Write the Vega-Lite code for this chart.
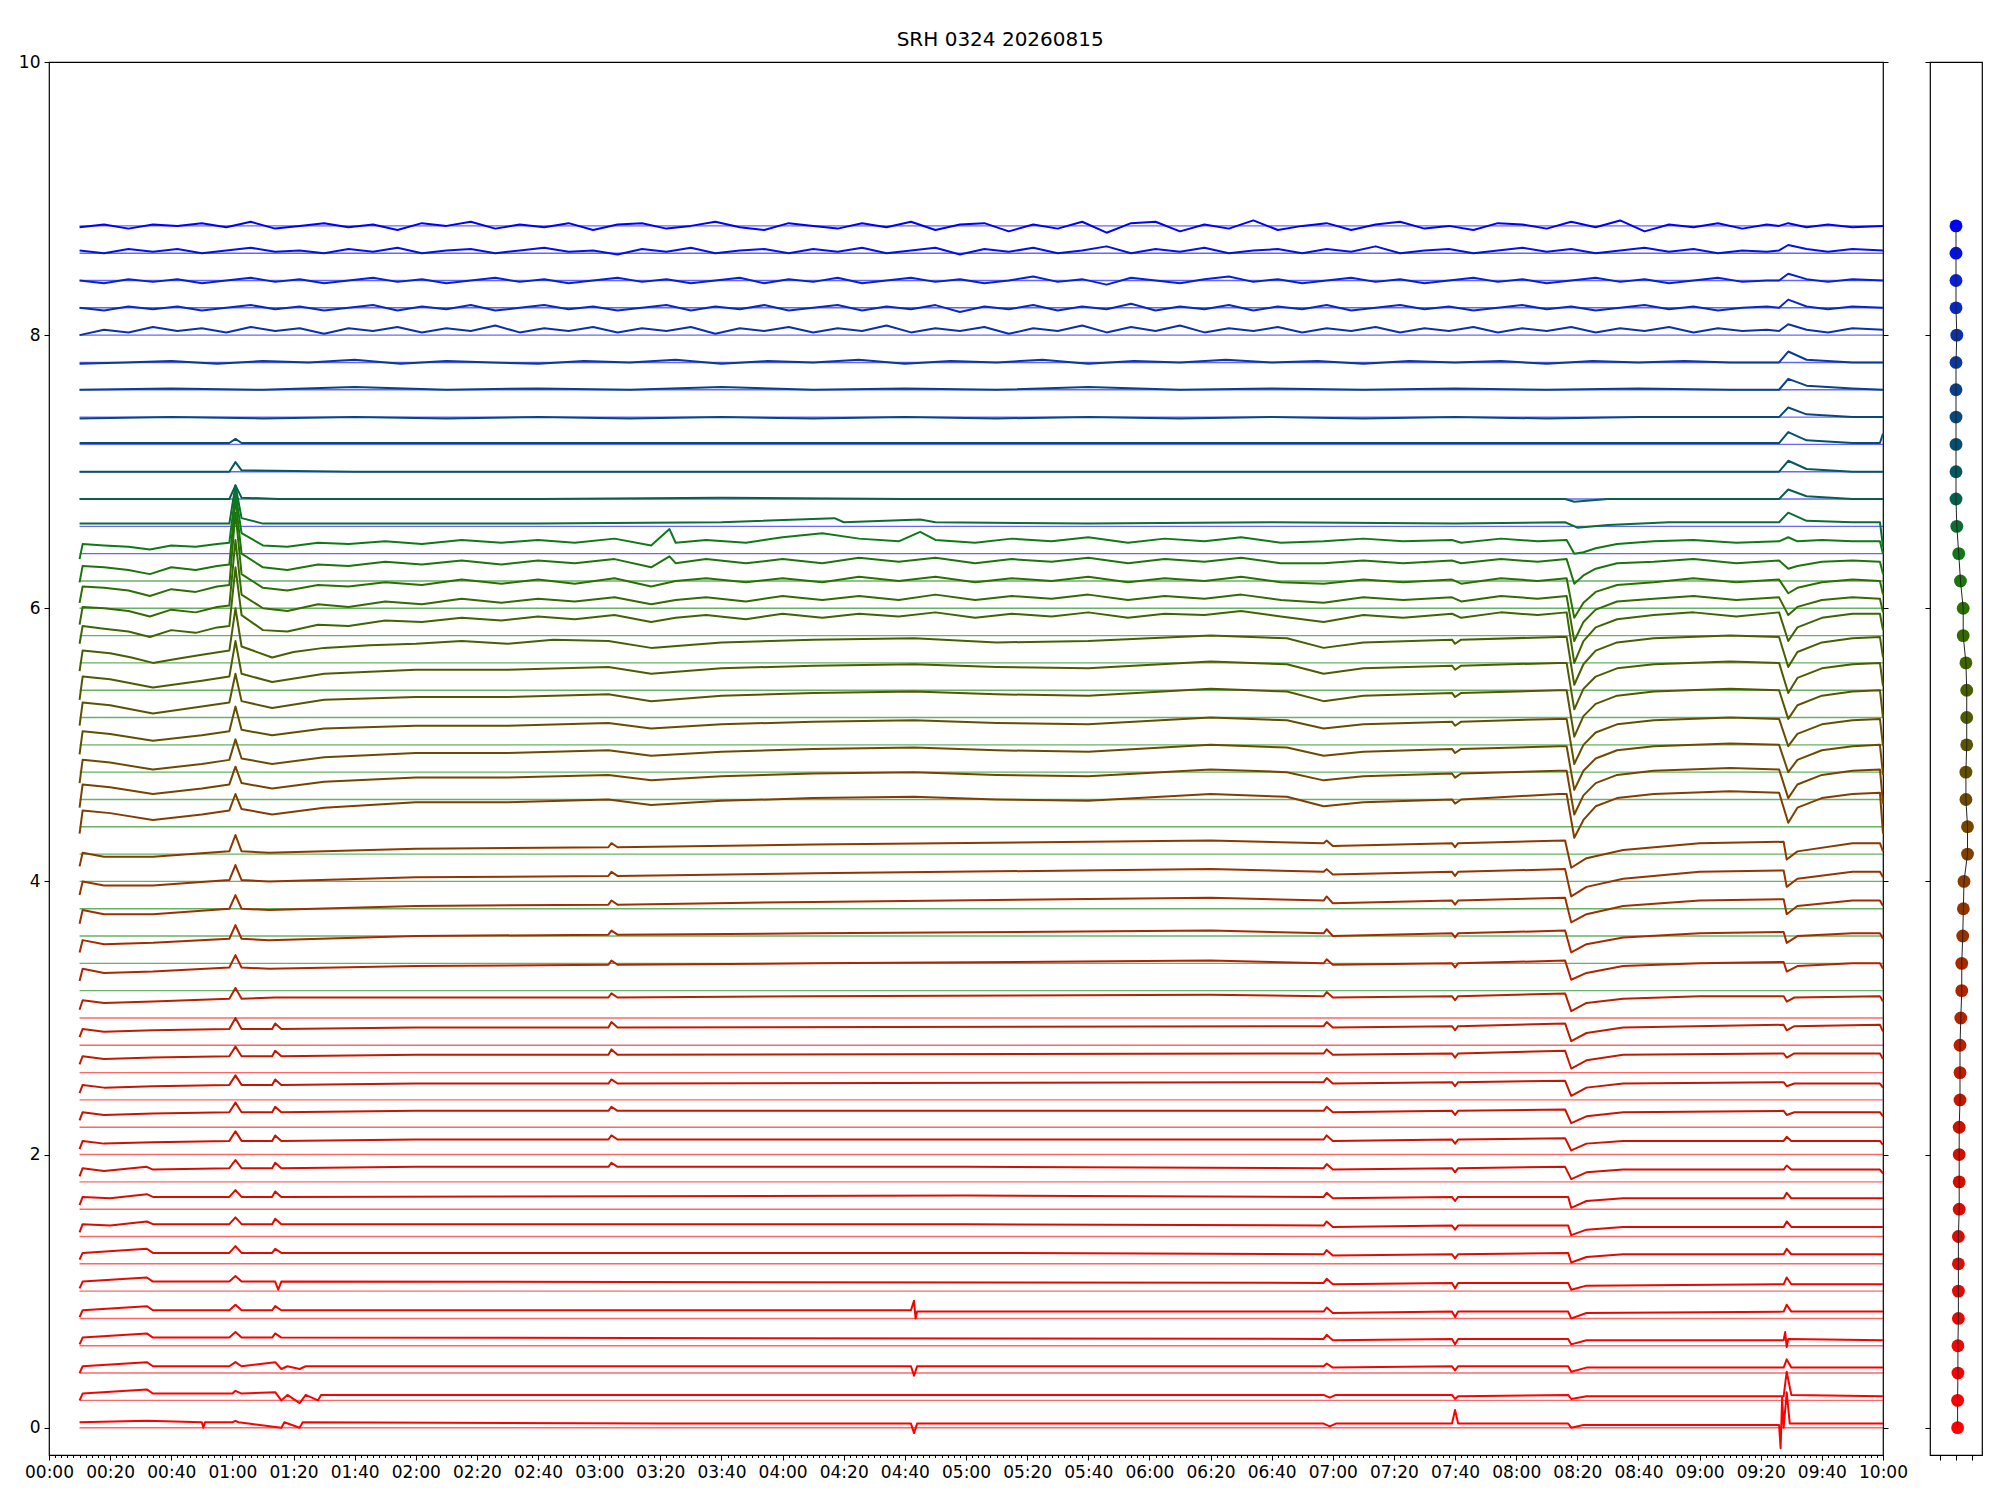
{
"$schema":"https://vega.github.io/schema/vega-lite/v6.json",
"background":"white",
"padding":{"left":17,"top":30,"right":10,"bottom":10},
"title":{"text":"SRH 0324 20260815","font":"DejaVu Sans","fontSize":20,"fontWeight":"normal","color":"#000","offset":2,"anchor":"middle"},
"spacing":14,
"datasets":{
"bl":[
{"y":0,"g":"r","t":10,"e":600},{"y":0.2,"g":"r","t":10,"e":600},{"y":0.4,"g":"r","t":10,"e":600},{"y":0.6,"g":"r","t":10,"e":600},{"y":0.8,"g":"r","t":10,"e":600},{"y":1.0,"g":"r","t":10,"e":600},{"y":1.2,"g":"r","t":10,"e":600},{"y":1.4,"g":"r","t":10,"e":600},{"y":1.6,"g":"r","t":10,"e":600},{"y":1.8,"g":"r","t":10,"e":600},{"y":2.0,"g":"r","t":10,"e":600},{"y":2.2,"g":"r","t":10,"e":600},{"y":2.4,"g":"r","t":10,"e":600},{"y":2.6,"g":"r","t":10,"e":600},{"y":2.8,"g":"r","t":10,"e":600},{"y":3.0,"g":"r","t":10,"e":600},
{"y":3.2,"g":"g","t":10,"e":600},{"y":3.4,"g":"g","t":10,"e":600},{"y":3.6,"g":"g","t":10,"e":600},{"y":3.8,"g":"g","t":10,"e":600},{"y":4.0,"g":"g","t":10,"e":600},{"y":4.2,"g":"g","t":10,"e":600},{"y":4.4,"g":"g","t":10,"e":600},{"y":4.6,"g":"g","t":10,"e":600},{"y":4.8,"g":"g","t":10,"e":600},{"y":5.0,"g":"g","t":10,"e":600},{"y":5.2,"g":"g","t":10,"e":600},{"y":5.4,"g":"g","t":10,"e":600},{"y":5.6,"g":"g","t":10,"e":600},{"y":5.8,"g":"g","t":10,"e":600},{"y":6.0,"g":"g","t":10,"e":600},{"y":6.2,"g":"g","t":10,"e":600},
{"y":6.4,"g":"b","t":10,"e":600},{"y":6.6,"g":"b","t":10,"e":600},{"y":6.8,"g":"b","t":10,"e":600},{"y":7.0,"g":"b","t":10,"e":600},{"y":7.2,"g":"b","t":10,"e":600},{"y":7.4,"g":"b","t":10,"e":600},{"y":7.6,"g":"b","t":10,"e":600},{"y":7.8,"g":"b","t":10,"e":600},{"y":8.0,"g":"b","t":10,"e":600},{"y":8.2,"g":"b","t":10,"e":600},{"y":8.4,"g":"b","t":10,"e":600},{"y":8.6,"g":"b","t":10,"e":600},{"y":8.8,"g":"b","t":10,"e":600}
],
"dots":[
{"s":0,"x":0.1,"y":0},{"s":1,"x":0.1,"y":0.2},{"s":2,"x":0.12,"y":0.4},{"s":3,"x":0.12,"y":0.6},{"s":4,"x":0.15,"y":0.8},{"s":5,"x":0.15,"y":1.0},{"s":6,"x":0.15,"y":1.2},{"s":7,"x":0.15,"y":1.4},{"s":8,"x":0.2,"y":1.6},{"s":9,"x":0.2,"y":1.8},{"s":10,"x":0.2,"y":2.0},{"s":11,"x":0.2,"y":2.2},{"s":12,"x":0.25,"y":2.4},{"s":13,"x":0.25,"y":2.6},{"s":14,"x":0.25,"y":2.8},{"s":15,"x":0.3,"y":3.0},{"s":16,"x":0.36,"y":3.2},{"s":17,"x":0.36,"y":3.4},{"s":18,"x":0.42,"y":3.6},{"s":19,"x":0.46,"y":3.8},{"s":20,"x":0.5,"y":4.0},{"s":21,"x":0.72,"y":4.2},{"s":22,"x":0.72,"y":4.4},{"s":23,"x":0.62,"y":4.6},{"s":24,"x":0.62,"y":4.8},{"s":25,"x":0.67,"y":5.0},{"s":26,"x":0.67,"y":5.2},{"s":27,"x":0.67,"y":5.4},{"s":28,"x":0.62,"y":5.6},{"s":29,"x":0.45,"y":5.8},{"s":30,"x":0.45,"y":6.0},{"s":31,"x":0.28,"y":6.2},{"s":32,"x":0.17,"y":6.4},{"s":33,"x":0.05,"y":6.6},{"s":34,"x":0,"y":6.8},{"s":35,"x":0,"y":7.0},{"s":36,"x":0,"y":7.2},{"s":37,"x":0,"y":7.4},{"s":38,"x":0,"y":7.6},{"s":39,"x":0,"y":7.8},{"s":40,"x":0.05,"y":8.0},{"s":41,"x":0,"y":8.2},{"s":42,"x":0,"y":8.4},{"s":43,"x":0,"y":8.6},{"s":44,"x":0,"y":8.8}
],
"tr":[
{"s":0,"t":10,"y":0.04},{"s":0,"t":32,"y":0.05},{"s":0,"t":50,"y":0.04},{"s":0,"t":50.5,"y":0.0},{"s":0,"t":51,"y":0.04},{"s":0,"t":60,"y":0.04},{"s":0,"t":61,"y":0.05},{"s":0,"t":62,"y":0.04},{"s":0,"t":76,"y":0.0},{"s":0,"t":77,"y":0.04},{"s":0,"t":82,"y":0.0},{"s":0,"t":83,"y":0.04},{"s":0,"t":200,"y":0.03},{"s":0,"t":282,"y":0.03},{"s":0,"t":283,"y":-0.04},{"s":0,"t":284,"y":0.03},{"s":0,"t":417,"y":0.03},{"s":0,"t":419,"y":0.01},{"s":0,"t":421,"y":0.03},{"s":0,"t":459,"y":0.03},{"s":0,"t":460,"y":0.13},{"s":0,"t":461,"y":0.03},{"s":0,"t":497,"y":0.03},{"s":0,"t":498,"y":0.0},{"s":0,"t":502,"y":0.02},{"s":0,"t":566,"y":0.02},{"s":0,"t":566.5,"y":-0.15},{"s":0,"t":567,"y":0.22},{"s":0,"t":567.5,"y":0.0},{"s":0,"t":568.5,"y":0.26},{"s":0,"t":569.5,"y":0.03},{"s":0,"t":600,"y":0.03},
{"s":1,"t":10,"y":0.2},{"s":1,"t":11,"y":0.25},{"s":1,"t":32,"y":0.28},{"s":1,"t":34,"y":0.25},{"s":1,"t":60,"y":0.25},{"s":1,"t":61,"y":0.27},{"s":1,"t":63,"y":0.25},{"s":1,"t":74,"y":0.26},{"s":1,"t":76,"y":0.2},{"s":1,"t":78,"y":0.24},{"s":1,"t":82,"y":0.18},{"s":1,"t":84,"y":0.24},{"s":1,"t":88,"y":0.2},{"s":1,"t":89,"y":0.24},{"s":1,"t":240,"y":0.24},{"s":1,"t":417,"y":0.24},{"s":1,"t":419,"y":0.22},{"s":1,"t":421,"y":0.24},{"s":1,"t":459,"y":0.24},{"s":1,"t":460,"y":0.21},{"s":1,"t":461,"y":0.23},{"s":1,"t":497,"y":0.24},{"s":1,"t":498,"y":0.21},{"s":1,"t":503,"y":0.23},{"s":1,"t":567.5,"y":0.23},{"s":1,"t":568.5,"y":0.41},{"s":1,"t":570,"y":0.24},{"s":1,"t":600,"y":0.23},
{"s":2,"t":10,"y":0.4},{"s":2,"t":11,"y":0.45},{"s":2,"t":32,"y":0.48},{"s":2,"t":34,"y":0.45},{"s":2,"t":59,"y":0.45},{"s":2,"t":61,"y":0.48},{"s":2,"t":63,"y":0.45},{"s":2,"t":74,"y":0.48},{"s":2,"t":76,"y":0.43},{"s":2,"t":78,"y":0.45},{"s":2,"t":82,"y":0.43},{"s":2,"t":84,"y":0.45},{"s":2,"t":282,"y":0.45},{"s":2,"t":283,"y":0.38},{"s":2,"t":284,"y":0.45},{"s":2,"t":417,"y":0.45},{"s":2,"t":418,"y":0.47},{"s":2,"t":420,"y":0.44},{"s":2,"t":459,"y":0.45},{"s":2,"t":460,"y":0.42},{"s":2,"t":461,"y":0.45},{"s":2,"t":497,"y":0.45},{"s":2,"t":498,"y":0.41},{"s":2,"t":503,"y":0.44},{"s":2,"t":567.5,"y":0.44},{"s":2,"t":568.5,"y":0.5},{"s":2,"t":570,"y":0.44},{"s":2,"t":600,"y":0.44},
{"s":3,"t":10,"y":0.61},{"s":3,"t":11,"y":0.66},{"s":3,"t":32,"y":0.69},{"s":3,"t":34,"y":0.66},{"s":3,"t":59,"y":0.66},{"s":3,"t":61,"y":0.7},{"s":3,"t":63,"y":0.66},{"s":3,"t":73,"y":0.66},{"s":3,"t":74,"y":0.69},{"s":3,"t":76,"y":0.66},{"s":3,"t":417,"y":0.65},{"s":3,"t":418,"y":0.68},{"s":3,"t":420,"y":0.64},{"s":3,"t":459,"y":0.65},{"s":3,"t":460,"y":0.61},{"s":3,"t":461,"y":0.65},{"s":3,"t":497,"y":0.65},{"s":3,"t":498,"y":0.61},{"s":3,"t":503,"y":0.64},{"s":3,"t":567.5,"y":0.64},{"s":3,"t":568,"y":0.7},{"s":3,"t":568.5,"y":0.59},{"s":3,"t":569,"y":0.65},{"s":3,"t":600,"y":0.64},
{"s":4,"t":10,"y":0.81},{"s":4,"t":11,"y":0.86},{"s":4,"t":32,"y":0.89},{"s":4,"t":34,"y":0.86},{"s":4,"t":59,"y":0.86},{"s":4,"t":61,"y":0.9},{"s":4,"t":63,"y":0.86},{"s":4,"t":73,"y":0.86},{"s":4,"t":74,"y":0.89},{"s":4,"t":76,"y":0.86},{"s":4,"t":282,"y":0.86},{"s":4,"t":283,"y":0.93},{"s":4,"t":283.5,"y":0.8},{"s":4,"t":284,"y":0.85},{"s":4,"t":417,"y":0.85},{"s":4,"t":418,"y":0.88},{"s":4,"t":420,"y":0.84},{"s":4,"t":459,"y":0.85},{"s":4,"t":460,"y":0.81},{"s":4,"t":461,"y":0.85},{"s":4,"t":497,"y":0.85},{"s":4,"t":498,"y":0.8},{"s":4,"t":503,"y":0.84},{"s":4,"t":567.5,"y":0.85},{"s":4,"t":568.5,"y":0.9},{"s":4,"t":570,"y":0.85},{"s":4,"t":600,"y":0.85},
{"s":5,"t":10,"y":1.02},{"s":5,"t":11,"y":1.07},{"s":5,"t":32,"y":1.1},{"s":5,"t":34,"y":1.07},{"s":5,"t":59,"y":1.07},{"s":5,"t":61,"y":1.11},{"s":5,"t":63,"y":1.07},{"s":5,"t":74,"y":1.07},{"s":5,"t":75,"y":1.01},{"s":5,"t":76,"y":1.07},{"s":5,"t":417,"y":1.06},{"s":5,"t":418,"y":1.09},{"s":5,"t":420,"y":1.05},{"s":5,"t":459,"y":1.06},{"s":5,"t":460,"y":1.02},{"s":5,"t":461,"y":1.06},{"s":5,"t":497,"y":1.06},{"s":5,"t":498,"y":1.01},{"s":5,"t":503,"y":1.04},{"s":5,"t":567.5,"y":1.05},{"s":5,"t":568.5,"y":1.1},{"s":5,"t":570,"y":1.05},{"s":5,"t":600,"y":1.05},
{"s":6,"t":10,"y":1.23},{"s":6,"t":11,"y":1.28},{"s":6,"t":32,"y":1.31},{"s":6,"t":34,"y":1.28},{"s":6,"t":59,"y":1.28},{"s":6,"t":61,"y":1.33},{"s":6,"t":63,"y":1.28},{"s":6,"t":73,"y":1.28},{"s":6,"t":74,"y":1.31},{"s":6,"t":76,"y":1.28},{"s":6,"t":300,"y":1.28},{"s":6,"t":417,"y":1.27},{"s":6,"t":418,"y":1.3},{"s":6,"t":420,"y":1.26},{"s":6,"t":459,"y":1.27},{"s":6,"t":460,"y":1.24},{"s":6,"t":461,"y":1.27},{"s":6,"t":497,"y":1.28},{"s":6,"t":498,"y":1.21},{"s":6,"t":503,"y":1.25},{"s":6,"t":515,"y":1.27},{"s":6,"t":567.5,"y":1.27},{"s":6,"t":568.5,"y":1.31},{"s":6,"t":570,"y":1.27},{"s":6,"t":600,"y":1.27},
{"s":7,"t":10,"y":1.43},{"s":7,"t":11,"y":1.49},{"s":7,"t":20,"y":1.48},{"s":7,"t":32,"y":1.51},{"s":7,"t":34,"y":1.49},{"s":7,"t":59,"y":1.49},{"s":7,"t":61,"y":1.54},{"s":7,"t":63,"y":1.49},{"s":7,"t":73,"y":1.49},{"s":7,"t":74,"y":1.53},{"s":7,"t":76,"y":1.49},{"s":7,"t":300,"y":1.49},{"s":7,"t":417,"y":1.48},{"s":7,"t":418,"y":1.51},{"s":7,"t":420,"y":1.47},{"s":7,"t":459,"y":1.48},{"s":7,"t":460,"y":1.45},{"s":7,"t":461,"y":1.48},{"s":7,"t":497,"y":1.48},{"s":7,"t":498,"y":1.41},{"s":7,"t":503,"y":1.45},{"s":7,"t":515,"y":1.47},{"s":7,"t":567.5,"y":1.47},{"s":7,"t":568.5,"y":1.51},{"s":7,"t":570,"y":1.47},{"s":7,"t":600,"y":1.47},
{"s":8,"t":10,"y":1.63},{"s":8,"t":11,"y":1.69},{"s":8,"t":20,"y":1.68},{"s":8,"t":32,"y":1.71},{"s":8,"t":34,"y":1.69},{"s":8,"t":59,"y":1.69},{"s":8,"t":61,"y":1.74},{"s":8,"t":63,"y":1.69},{"s":8,"t":73,"y":1.69},{"s":8,"t":74,"y":1.73},{"s":8,"t":76,"y":1.69},{"s":8,"t":300,"y":1.7},{"s":8,"t":417,"y":1.69},{"s":8,"t":418,"y":1.72},{"s":8,"t":420,"y":1.68},{"s":8,"t":459,"y":1.69},{"s":8,"t":460,"y":1.66},{"s":8,"t":461,"y":1.69},{"s":8,"t":497,"y":1.69},{"s":8,"t":498,"y":1.61},{"s":8,"t":503,"y":1.66},{"s":8,"t":515,"y":1.68},{"s":8,"t":567.5,"y":1.68},{"s":8,"t":568.5,"y":1.72},{"s":8,"t":570,"y":1.68},{"s":8,"t":600,"y":1.68},
{"s":9,"t":10,"y":1.84},{"s":9,"t":11,"y":1.9},{"s":9,"t":18,"y":1.88},{"s":9,"t":32,"y":1.91},{"s":9,"t":34,"y":1.89},{"s":9,"t":59,"y":1.9},{"s":9,"t":61,"y":1.96},{"s":9,"t":63,"y":1.9},{"s":9,"t":73,"y":1.9},{"s":9,"t":74,"y":1.94},{"s":9,"t":76,"y":1.9},{"s":9,"t":120,"y":1.91},{"s":9,"t":183,"y":1.91},{"s":9,"t":184,"y":1.94},{"s":9,"t":186,"y":1.91},{"s":9,"t":300,"y":1.91},{"s":9,"t":417,"y":1.9},{"s":9,"t":418,"y":1.93},{"s":9,"t":420,"y":1.89},{"s":9,"t":459,"y":1.9},{"s":9,"t":460,"y":1.87},{"s":9,"t":461,"y":1.9},{"s":9,"t":496,"y":1.91},{"s":9,"t":498,"y":1.82},{"s":9,"t":503,"y":1.87},{"s":9,"t":515,"y":1.89},{"s":9,"t":567.5,"y":1.89},{"s":9,"t":568.5,"y":1.92},{"s":9,"t":570,"y":1.89},{"s":9,"t":599,"y":1.89},{"s":9,"t":600,"y":1.86},
{"s":10,"t":10,"y":2.04},{"s":10,"t":11,"y":2.1},{"s":10,"t":18,"y":2.08},{"s":10,"t":34,"y":2.09},{"s":10,"t":59,"y":2.1},{"s":10,"t":61,"y":2.17},{"s":10,"t":63,"y":2.1},{"s":10,"t":73,"y":2.1},{"s":10,"t":74,"y":2.14},{"s":10,"t":76,"y":2.1},{"s":10,"t":120,"y":2.11},{"s":10,"t":183,"y":2.11},{"s":10,"t":184,"y":2.14},{"s":10,"t":186,"y":2.11},{"s":10,"t":417,"y":2.11},{"s":10,"t":418,"y":2.14},{"s":10,"t":420,"y":2.1},{"s":10,"t":459,"y":2.11},{"s":10,"t":460,"y":2.08},{"s":10,"t":461,"y":2.11},{"s":10,"t":496,"y":2.12},{"s":10,"t":498,"y":2.03},{"s":10,"t":503,"y":2.08},{"s":10,"t":515,"y":2.1},{"s":10,"t":567.5,"y":2.1},{"s":10,"t":568.5,"y":2.13},{"s":10,"t":570,"y":2.1},{"s":10,"t":599,"y":2.1},{"s":10,"t":600,"y":2.07},
{"s":11,"t":10,"y":2.25},{"s":11,"t":11,"y":2.31},{"s":11,"t":18,"y":2.29},{"s":11,"t":34,"y":2.3},{"s":11,"t":59,"y":2.31},{"s":11,"t":61,"y":2.38},{"s":11,"t":63,"y":2.31},{"s":11,"t":73,"y":2.31},{"s":11,"t":74,"y":2.35},{"s":11,"t":76,"y":2.31},{"s":11,"t":120,"y":2.32},{"s":11,"t":183,"y":2.32},{"s":11,"t":184,"y":2.35},{"s":11,"t":186,"y":2.32},{"s":11,"t":417,"y":2.32},{"s":11,"t":418,"y":2.35},{"s":11,"t":420,"y":2.31},{"s":11,"t":459,"y":2.32},{"s":11,"t":460,"y":2.29},{"s":11,"t":461,"y":2.32},{"s":11,"t":496,"y":2.33},{"s":11,"t":498,"y":2.23},{"s":11,"t":503,"y":2.28},{"s":11,"t":515,"y":2.31},{"s":11,"t":567.5,"y":2.32},{"s":11,"t":568.5,"y":2.29},{"s":11,"t":571,"y":2.31},{"s":11,"t":599,"y":2.31},{"s":11,"t":600,"y":2.28},
{"s":12,"t":10,"y":2.45},{"s":12,"t":11,"y":2.51},{"s":12,"t":18,"y":2.49},{"s":12,"t":34,"y":2.5},{"s":12,"t":59,"y":2.51},{"s":12,"t":61,"y":2.58},{"s":12,"t":63,"y":2.51},{"s":12,"t":73,"y":2.51},{"s":12,"t":74,"y":2.55},{"s":12,"t":76,"y":2.51},{"s":12,"t":120,"y":2.52},{"s":12,"t":183,"y":2.52},{"s":12,"t":184,"y":2.55},{"s":12,"t":186,"y":2.52},{"s":12,"t":417,"y":2.53},{"s":12,"t":418,"y":2.56},{"s":12,"t":420,"y":2.52},{"s":12,"t":459,"y":2.53},{"s":12,"t":460,"y":2.5},{"s":12,"t":461,"y":2.53},{"s":12,"t":496,"y":2.54},{"s":12,"t":498,"y":2.43},{"s":12,"t":503,"y":2.49},{"s":12,"t":515,"y":2.52},{"s":12,"t":567.5,"y":2.53},{"s":12,"t":568.5,"y":2.5},{"s":12,"t":571,"y":2.52},{"s":12,"t":599,"y":2.52},{"s":12,"t":600,"y":2.49},
{"s":13,"t":10,"y":2.66},{"s":13,"t":11,"y":2.72},{"s":13,"t":18,"y":2.7},{"s":13,"t":34,"y":2.71},{"s":13,"t":59,"y":2.72},{"s":13,"t":61,"y":2.79},{"s":13,"t":63,"y":2.72},{"s":13,"t":73,"y":2.72},{"s":13,"t":74,"y":2.76},{"s":13,"t":76,"y":2.72},{"s":13,"t":120,"y":2.73},{"s":13,"t":183,"y":2.73},{"s":13,"t":184,"y":2.77},{"s":13,"t":186,"y":2.73},{"s":13,"t":417,"y":2.74},{"s":13,"t":418,"y":2.77},{"s":13,"t":420,"y":2.73},{"s":13,"t":459,"y":2.74},{"s":13,"t":460,"y":2.71},{"s":13,"t":461,"y":2.74},{"s":13,"t":496,"y":2.76},{"s":13,"t":498,"y":2.63},{"s":13,"t":503,"y":2.69},{"s":13,"t":515,"y":2.73},{"s":13,"t":567.5,"y":2.74},{"s":13,"t":568.5,"y":2.71},{"s":13,"t":571,"y":2.74},{"s":13,"t":599,"y":2.74},{"s":13,"t":600,"y":2.7},
{"s":14,"t":10,"y":2.86},{"s":14,"t":11,"y":2.92},{"s":14,"t":18,"y":2.9},{"s":14,"t":34,"y":2.91},{"s":14,"t":59,"y":2.92},{"s":14,"t":61,"y":3.0},{"s":14,"t":63,"y":2.92},{"s":14,"t":73,"y":2.92},{"s":14,"t":74,"y":2.96},{"s":14,"t":76,"y":2.92},{"s":14,"t":120,"y":2.93},{"s":14,"t":183,"y":2.93},{"s":14,"t":184,"y":2.97},{"s":14,"t":186,"y":2.93},{"s":14,"t":417,"y":2.94},{"s":14,"t":418,"y":2.97},{"s":14,"t":420,"y":2.93},{"s":14,"t":459,"y":2.94},{"s":14,"t":460,"y":2.91},{"s":14,"t":461,"y":2.94},{"s":14,"t":496,"y":2.96},{"s":14,"t":498,"y":2.83},{"s":14,"t":503,"y":2.89},{"s":14,"t":515,"y":2.93},{"s":14,"t":567.5,"y":2.95},{"s":14,"t":568.5,"y":2.91},{"s":14,"t":571,"y":2.94},{"s":14,"t":599,"y":2.95},{"s":14,"t":600,"y":2.9},
{"s":15,"t":10,"y":3.06},{"s":15,"t":11,"y":3.13},{"s":15,"t":18,"y":3.11},{"s":15,"t":34,"y":3.12},{"s":15,"t":59,"y":3.14},{"s":15,"t":61,"y":3.22},{"s":15,"t":63,"y":3.14},{"s":15,"t":74,"y":3.15},{"s":15,"t":120,"y":3.15},{"s":15,"t":183,"y":3.15},{"s":15,"t":184,"y":3.18},{"s":15,"t":186,"y":3.15},{"s":15,"t":250,"y":3.16},{"s":15,"t":380,"y":3.17},{"s":15,"t":417,"y":3.16},{"s":15,"t":418,"y":3.19},{"s":15,"t":420,"y":3.15},{"s":15,"t":459,"y":3.16},{"s":15,"t":460,"y":3.13},{"s":15,"t":461,"y":3.16},{"s":15,"t":496,"y":3.18},{"s":15,"t":498,"y":3.05},{"s":15,"t":503,"y":3.11},{"s":15,"t":515,"y":3.14},{"s":15,"t":540,"y":3.16},{"s":15,"t":567.5,"y":3.16},{"s":15,"t":568.5,"y":3.12},{"s":15,"t":571,"y":3.15},{"s":15,"t":599,"y":3.16},{"s":15,"t":600,"y":3.12},
{"s":16,"t":10,"y":3.27},{"s":16,"t":11,"y":3.36},{"s":16,"t":18,"y":3.33},{"s":16,"t":34,"y":3.34},{"s":16,"t":59,"y":3.37},{"s":16,"t":61,"y":3.46},{"s":16,"t":63,"y":3.37},{"s":16,"t":72,"y":3.36},{"s":16,"t":120,"y":3.38},{"s":16,"t":183,"y":3.39},{"s":16,"t":184,"y":3.42},{"s":16,"t":186,"y":3.39},{"s":16,"t":250,"y":3.4},{"s":16,"t":380,"y":3.42},{"s":16,"t":417,"y":3.4},{"s":16,"t":418,"y":3.43},{"s":16,"t":420,"y":3.39},{"s":16,"t":459,"y":3.4},{"s":16,"t":460,"y":3.37},{"s":16,"t":461,"y":3.4},{"s":16,"t":496,"y":3.42},{"s":16,"t":498,"y":3.28},{"s":16,"t":503,"y":3.33},{"s":16,"t":515,"y":3.38},{"s":16,"t":540,"y":3.4},{"s":16,"t":567.5,"y":3.41},{"s":16,"t":568.5,"y":3.34},{"s":16,"t":572,"y":3.38},{"s":16,"t":590,"y":3.4},{"s":16,"t":599,"y":3.4},{"s":16,"t":600,"y":3.36},
{"s":17,"t":10,"y":3.48},{"s":17,"t":11,"y":3.57},{"s":17,"t":18,"y":3.54},{"s":17,"t":34,"y":3.55},{"s":17,"t":59,"y":3.58},{"s":17,"t":61,"y":3.68},{"s":17,"t":63,"y":3.58},{"s":17,"t":72,"y":3.57},{"s":17,"t":120,"y":3.6},{"s":17,"t":183,"y":3.61},{"s":17,"t":184,"y":3.64},{"s":17,"t":186,"y":3.61},{"s":17,"t":250,"y":3.62},{"s":17,"t":380,"y":3.64},{"s":17,"t":417,"y":3.62},{"s":17,"t":418,"y":3.65},{"s":17,"t":420,"y":3.6},{"s":17,"t":459,"y":3.62},{"s":17,"t":460,"y":3.59},{"s":17,"t":461,"y":3.62},{"s":17,"t":496,"y":3.64},{"s":17,"t":498,"y":3.48},{"s":17,"t":503,"y":3.54},{"s":17,"t":515,"y":3.59},{"s":17,"t":540,"y":3.62},{"s":17,"t":567.5,"y":3.63},{"s":17,"t":568.5,"y":3.55},{"s":17,"t":572,"y":3.6},{"s":17,"t":590,"y":3.62},{"s":17,"t":599,"y":3.62},{"s":17,"t":600,"y":3.58},
{"s":18,"t":10,"y":3.69},{"s":18,"t":11,"y":3.79},{"s":18,"t":18,"y":3.76},{"s":18,"t":34,"y":3.76},{"s":18,"t":59,"y":3.8},{"s":18,"t":61,"y":3.9},{"s":18,"t":63,"y":3.8},{"s":18,"t":72,"y":3.79},{"s":18,"t":120,"y":3.82},{"s":18,"t":183,"y":3.83},{"s":18,"t":184,"y":3.86},{"s":18,"t":186,"y":3.83},{"s":18,"t":250,"y":3.85},{"s":18,"t":380,"y":3.88},{"s":18,"t":417,"y":3.86},{"s":18,"t":418,"y":3.89},{"s":18,"t":420,"y":3.84},{"s":18,"t":459,"y":3.86},{"s":18,"t":460,"y":3.83},{"s":18,"t":461,"y":3.86},{"s":18,"t":496,"y":3.88},{"s":18,"t":498,"y":3.7},{"s":18,"t":503,"y":3.76},{"s":18,"t":515,"y":3.82},{"s":18,"t":540,"y":3.86},{"s":18,"t":567.5,"y":3.87},{"s":18,"t":568.5,"y":3.76},{"s":18,"t":572,"y":3.82},{"s":18,"t":590,"y":3.86},{"s":18,"t":599,"y":3.86},{"s":18,"t":600,"y":3.82},
{"s":19,"t":10,"y":3.9},{"s":19,"t":11,"y":4.0},{"s":19,"t":18,"y":3.97},{"s":19,"t":34,"y":3.97},{"s":19,"t":59,"y":4.01},{"s":19,"t":61,"y":4.12},{"s":19,"t":63,"y":4.01},{"s":19,"t":72,"y":4.0},{"s":19,"t":120,"y":4.03},{"s":19,"t":183,"y":4.04},{"s":19,"t":184,"y":4.07},{"s":19,"t":186,"y":4.04},{"s":19,"t":250,"y":4.06},{"s":19,"t":380,"y":4.09},{"s":19,"t":417,"y":4.07},{"s":19,"t":418,"y":4.09},{"s":19,"t":420,"y":4.05},{"s":19,"t":459,"y":4.07},{"s":19,"t":460,"y":4.04},{"s":19,"t":461,"y":4.07},{"s":19,"t":496,"y":4.09},{"s":19,"t":498,"y":3.89},{"s":19,"t":503,"y":3.96},{"s":19,"t":515,"y":4.02},{"s":19,"t":540,"y":4.07},{"s":19,"t":567.5,"y":4.08},{"s":19,"t":568.5,"y":3.96},{"s":19,"t":572,"y":4.02},{"s":19,"t":590,"y":4.07},{"s":19,"t":599,"y":4.07},{"s":19,"t":600,"y":4.03},
{"s":20,"t":10,"y":4.11},{"s":20,"t":11,"y":4.21},{"s":20,"t":18,"y":4.18},{"s":20,"t":34,"y":4.18},{"s":20,"t":59,"y":4.22},{"s":20,"t":61,"y":4.34},{"s":20,"t":63,"y":4.22},{"s":20,"t":72,"y":4.21},{"s":20,"t":120,"y":4.24},{"s":20,"t":183,"y":4.25},{"s":20,"t":184,"y":4.28},{"s":20,"t":186,"y":4.25},{"s":20,"t":250,"y":4.27},{"s":20,"t":380,"y":4.3},{"s":20,"t":417,"y":4.28},{"s":20,"t":418,"y":4.3},{"s":20,"t":420,"y":4.26},{"s":20,"t":459,"y":4.28},{"s":20,"t":460,"y":4.25},{"s":20,"t":461,"y":4.28},{"s":20,"t":496,"y":4.3},{"s":20,"t":498,"y":4.1},{"s":20,"t":503,"y":4.17},{"s":20,"t":515,"y":4.23},{"s":20,"t":540,"y":4.28},{"s":20,"t":567.5,"y":4.29},{"s":20,"t":568.5,"y":4.16},{"s":20,"t":572,"y":4.22},{"s":20,"t":590,"y":4.28},{"s":20,"t":599,"y":4.28},{"s":20,"t":600,"y":4.22},
{"s":21,"t":10,"y":4.35},{"s":21,"t":11,"y":4.52},{"s":21,"t":20,"y":4.5},{"s":21,"t":34,"y":4.45},{"s":21,"t":50,"y":4.49},{"s":21,"t":59,"y":4.52},{"s":21,"t":61,"y":4.64},{"s":21,"t":63,"y":4.53},{"s":21,"t":73,"y":4.49},{"s":21,"t":90,"y":4.54},{"s":21,"t":120,"y":4.58},{"s":21,"t":150,"y":4.58},{"s":21,"t":183,"y":4.6},{"s":21,"t":197,"y":4.56},{"s":21,"t":220,"y":4.59},{"s":21,"t":250,"y":4.61},{"s":21,"t":283,"y":4.62},{"s":21,"t":310,"y":4.6},{"s":21,"t":340,"y":4.59},{"s":21,"t":380,"y":4.64},{"s":21,"t":405,"y":4.62},{"s":21,"t":417,"y":4.55},{"s":21,"t":430,"y":4.58},{"s":21,"t":459,"y":4.6},{"s":21,"t":460,"y":4.57},{"s":21,"t":462,"y":4.6},{"s":21,"t":494,"y":4.64},{"s":21,"t":496.5,"y":4.64},{"s":21,"t":499,"y":4.32},{"s":21,"t":502,"y":4.45},{"s":21,"t":506,"y":4.55},{"s":21,"t":513,"y":4.61},{"s":21,"t":525,"y":4.64},{"s":21,"t":550,"y":4.66},{"s":21,"t":566,"y":4.65},{"s":21,"t":569,"y":4.43},{"s":21,"t":572,"y":4.54},{"s":21,"t":580,"y":4.61},{"s":21,"t":590,"y":4.64},{"s":21,"t":599,"y":4.65},{"s":21,"t":600,"y":4.35},
{"s":22,"t":10,"y":4.54},{"s":22,"t":11,"y":4.71},{"s":22,"t":20,"y":4.69},{"s":22,"t":34,"y":4.64},{"s":22,"t":50,"y":4.68},{"s":22,"t":59,"y":4.71},{"s":22,"t":61,"y":4.84},{"s":22,"t":63,"y":4.72},{"s":22,"t":73,"y":4.68},{"s":22,"t":90,"y":4.73},{"s":22,"t":120,"y":4.76},{"s":22,"t":150,"y":4.76},{"s":22,"t":183,"y":4.78},{"s":22,"t":197,"y":4.74},{"s":22,"t":220,"y":4.77},{"s":22,"t":250,"y":4.79},{"s":22,"t":283,"y":4.8},{"s":22,"t":310,"y":4.78},{"s":22,"t":340,"y":4.77},{"s":22,"t":380,"y":4.82},{"s":22,"t":405,"y":4.8},{"s":22,"t":417,"y":4.74},{"s":22,"t":430,"y":4.77},{"s":22,"t":459,"y":4.79},{"s":22,"t":460,"y":4.76},{"s":22,"t":462,"y":4.79},{"s":22,"t":494,"y":4.81},{"s":22,"t":496.5,"y":4.81},{"s":22,"t":499,"y":4.49},{"s":22,"t":502,"y":4.63},{"s":22,"t":506,"y":4.72},{"s":22,"t":513,"y":4.78},{"s":22,"t":525,"y":4.81},{"s":22,"t":550,"y":4.83},{"s":22,"t":566,"y":4.82},{"s":22,"t":569,"y":4.61},{"s":22,"t":572,"y":4.71},{"s":22,"t":580,"y":4.78},{"s":22,"t":590,"y":4.81},{"s":22,"t":599,"y":4.82},{"s":22,"t":600,"y":4.57},
{"s":23,"t":10,"y":4.72},{"s":23,"t":11,"y":4.89},{"s":23,"t":20,"y":4.87},{"s":23,"t":34,"y":4.82},{"s":23,"t":50,"y":4.86},{"s":23,"t":59,"y":4.89},{"s":23,"t":61,"y":5.04},{"s":23,"t":63,"y":4.9},{"s":23,"t":73,"y":4.86},{"s":23,"t":90,"y":4.91},{"s":23,"t":120,"y":4.94},{"s":23,"t":150,"y":4.94},{"s":23,"t":183,"y":4.96},{"s":23,"t":197,"y":4.92},{"s":23,"t":220,"y":4.95},{"s":23,"t":250,"y":4.97},{"s":23,"t":283,"y":4.98},{"s":23,"t":310,"y":4.96},{"s":23,"t":340,"y":4.95},{"s":23,"t":380,"y":5.0},{"s":23,"t":405,"y":4.98},{"s":23,"t":417,"y":4.92},{"s":23,"t":430,"y":4.95},{"s":23,"t":459,"y":4.97},{"s":23,"t":460,"y":4.94},{"s":23,"t":462,"y":4.97},{"s":23,"t":494,"y":4.99},{"s":23,"t":496.5,"y":4.99},{"s":23,"t":499,"y":4.67},{"s":23,"t":502,"y":4.81},{"s":23,"t":506,"y":4.9},{"s":23,"t":513,"y":4.96},{"s":23,"t":525,"y":4.99},{"s":23,"t":550,"y":5.01},{"s":23,"t":566,"y":5.0},{"s":23,"t":569,"y":4.8},{"s":23,"t":572,"y":4.89},{"s":23,"t":580,"y":4.96},{"s":23,"t":590,"y":4.99},{"s":23,"t":599,"y":5.0},{"s":23,"t":600,"y":4.78},
{"s":24,"t":10,"y":4.93},{"s":24,"t":11,"y":5.1},{"s":24,"t":20,"y":5.08},{"s":24,"t":34,"y":5.03},{"s":24,"t":50,"y":5.07},{"s":24,"t":59,"y":5.1},{"s":24,"t":61,"y":5.28},{"s":24,"t":63,"y":5.11},{"s":24,"t":73,"y":5.07},{"s":24,"t":90,"y":5.12},{"s":24,"t":120,"y":5.14},{"s":24,"t":150,"y":5.14},{"s":24,"t":183,"y":5.16},{"s":24,"t":197,"y":5.12},{"s":24,"t":220,"y":5.15},{"s":24,"t":250,"y":5.17},{"s":24,"t":283,"y":5.18},{"s":24,"t":310,"y":5.16},{"s":24,"t":340,"y":5.15},{"s":24,"t":380,"y":5.2},{"s":24,"t":405,"y":5.18},{"s":24,"t":417,"y":5.12},{"s":24,"t":430,"y":5.15},{"s":24,"t":459,"y":5.17},{"s":24,"t":460,"y":5.14},{"s":24,"t":462,"y":5.17},{"s":24,"t":494,"y":5.19},{"s":24,"t":496.5,"y":5.19},{"s":24,"t":499,"y":4.86},{"s":24,"t":502,"y":5.0},{"s":24,"t":506,"y":5.09},{"s":24,"t":513,"y":5.15},{"s":24,"t":525,"y":5.18},{"s":24,"t":550,"y":5.2},{"s":24,"t":566,"y":5.19},{"s":24,"t":569,"y":4.99},{"s":24,"t":572,"y":5.08},{"s":24,"t":580,"y":5.15},{"s":24,"t":590,"y":5.18},{"s":24,"t":599,"y":5.19},{"s":24,"t":600,"y":4.99},
{"s":25,"t":10,"y":5.14},{"s":25,"t":11,"y":5.31},{"s":25,"t":20,"y":5.29},{"s":25,"t":34,"y":5.23},{"s":25,"t":50,"y":5.28},{"s":25,"t":59,"y":5.31},{"s":25,"t":61,"y":5.52},{"s":25,"t":63,"y":5.32},{"s":25,"t":73,"y":5.27},{"s":25,"t":90,"y":5.33},{"s":25,"t":120,"y":5.35},{"s":25,"t":150,"y":5.35},{"s":25,"t":183,"y":5.37},{"s":25,"t":197,"y":5.32},{"s":25,"t":220,"y":5.36},{"s":25,"t":250,"y":5.38},{"s":25,"t":283,"y":5.39},{"s":25,"t":310,"y":5.37},{"s":25,"t":340,"y":5.36},{"s":25,"t":380,"y":5.41},{"s":25,"t":405,"y":5.39},{"s":25,"t":417,"y":5.32},{"s":25,"t":430,"y":5.36},{"s":25,"t":459,"y":5.38},{"s":25,"t":460,"y":5.35},{"s":25,"t":462,"y":5.38},{"s":25,"t":494,"y":5.4},{"s":25,"t":496.5,"y":5.4},{"s":25,"t":499,"y":5.06},{"s":25,"t":502,"y":5.21},{"s":25,"t":506,"y":5.3},{"s":25,"t":513,"y":5.36},{"s":25,"t":525,"y":5.39},{"s":25,"t":550,"y":5.41},{"s":25,"t":566,"y":5.4},{"s":25,"t":569,"y":5.19},{"s":25,"t":572,"y":5.29},{"s":25,"t":580,"y":5.36},{"s":25,"t":590,"y":5.39},{"s":25,"t":599,"y":5.4},{"s":25,"t":600,"y":5.2},
{"s":26,"t":10,"y":5.33},{"s":26,"t":11,"y":5.5},{"s":26,"t":20,"y":5.48},{"s":26,"t":34,"y":5.42},{"s":26,"t":50,"y":5.47},{"s":26,"t":59,"y":5.5},{"s":26,"t":61,"y":5.76},{"s":26,"t":63,"y":5.52},{"s":26,"t":73,"y":5.46},{"s":26,"t":90,"y":5.52},{"s":26,"t":120,"y":5.55},{"s":26,"t":150,"y":5.55},{"s":26,"t":183,"y":5.57},{"s":26,"t":197,"y":5.52},{"s":26,"t":220,"y":5.56},{"s":26,"t":250,"y":5.58},{"s":26,"t":283,"y":5.59},{"s":26,"t":310,"y":5.57},{"s":26,"t":340,"y":5.56},{"s":26,"t":380,"y":5.61},{"s":26,"t":405,"y":5.59},{"s":26,"t":417,"y":5.52},{"s":26,"t":430,"y":5.56},{"s":26,"t":459,"y":5.58},{"s":26,"t":460,"y":5.55},{"s":26,"t":462,"y":5.58},{"s":26,"t":494,"y":5.6},{"s":26,"t":496.5,"y":5.6},{"s":26,"t":499,"y":5.26},{"s":26,"t":502,"y":5.41},{"s":26,"t":506,"y":5.5},{"s":26,"t":513,"y":5.56},{"s":26,"t":525,"y":5.59},{"s":26,"t":550,"y":5.61},{"s":26,"t":566,"y":5.6},{"s":26,"t":569,"y":5.38},{"s":26,"t":572,"y":5.49},{"s":26,"t":580,"y":5.56},{"s":26,"t":590,"y":5.59},{"s":26,"t":599,"y":5.6},{"s":26,"t":600,"y":5.43},
{"s":27,"t":10,"y":5.54},{"s":27,"t":11,"y":5.69},{"s":27,"t":20,"y":5.67},{"s":27,"t":27,"y":5.64},{"s":27,"t":34,"y":5.6},{"s":27,"t":42,"y":5.63},{"s":27,"t":50,"y":5.66},{"s":27,"t":59,"y":5.69},{"s":27,"t":61,"y":6.0},{"s":27,"t":63,"y":5.72},{"s":27,"t":73,"y":5.64},{"s":27,"t":80,"y":5.68},{"s":27,"t":90,"y":5.71},{"s":27,"t":105,"y":5.73},{"s":27,"t":120,"y":5.74},{"s":27,"t":135,"y":5.76},{"s":27,"t":150,"y":5.74},{"s":27,"t":165,"y":5.77},{"s":27,"t":183,"y":5.76},{"s":27,"t":197,"y":5.71},{"s":27,"t":220,"y":5.75},{"s":27,"t":250,"y":5.77},{"s":27,"t":283,"y":5.78},{"s":27,"t":310,"y":5.75},{"s":27,"t":340,"y":5.76},{"s":27,"t":380,"y":5.8},{"s":27,"t":405,"y":5.78},{"s":27,"t":417,"y":5.71},{"s":27,"t":430,"y":5.75},{"s":27,"t":459,"y":5.77},{"s":27,"t":460,"y":5.74},{"s":27,"t":462,"y":5.77},{"s":27,"t":494,"y":5.79},{"s":27,"t":496.5,"y":5.79},{"s":27,"t":499,"y":5.44},{"s":27,"t":502,"y":5.59},{"s":27,"t":506,"y":5.69},{"s":27,"t":513,"y":5.75},{"s":27,"t":525,"y":5.78},{"s":27,"t":550,"y":5.8},{"s":27,"t":566,"y":5.79},{"s":27,"t":569,"y":5.57},{"s":27,"t":572,"y":5.68},{"s":27,"t":580,"y":5.75},{"s":27,"t":590,"y":5.78},{"s":27,"t":599,"y":5.79},{"s":27,"t":600,"y":5.64},
{"s":28,"t":10,"y":5.74},{"s":28,"t":11,"y":5.87},{"s":28,"t":18,"y":5.85},{"s":28,"t":26,"y":5.83},{"s":28,"t":33,"y":5.79},{"s":28,"t":40,"y":5.84},{"s":28,"t":48,"y":5.82},{"s":28,"t":55,"y":5.86},{"s":28,"t":59,"y":5.87},{"s":28,"t":61,"y":6.3},{"s":28,"t":63,"y":5.95},{"s":28,"t":70,"y":5.84},{"s":28,"t":78,"y":5.83},{"s":28,"t":88,"y":5.88},{"s":28,"t":98,"y":5.87},{"s":28,"t":110,"y":5.91},{"s":28,"t":122,"y":5.9},{"s":28,"t":135,"y":5.93},{"s":28,"t":148,"y":5.91},{"s":28,"t":160,"y":5.94},{"s":28,"t":172,"y":5.92},{"s":28,"t":185,"y":5.95},{"s":28,"t":197,"y":5.9},{"s":28,"t":205,"y":5.93},{"s":28,"t":215,"y":5.95},{"s":28,"t":228,"y":5.92},{"s":28,"t":240,"y":5.96},{"s":28,"t":253,"y":5.93},{"s":28,"t":265,"y":5.96},{"s":28,"t":278,"y":5.94},{"s":28,"t":290,"y":5.97},{"s":28,"t":303,"y":5.93},{"s":28,"t":315,"y":5.96},{"s":28,"t":328,"y":5.94},{"s":28,"t":340,"y":5.97},{"s":28,"t":353,"y":5.93},{"s":28,"t":365,"y":5.96},{"s":28,"t":378,"y":5.95},{"s":28,"t":390,"y":5.98},{"s":28,"t":403,"y":5.94},{"s":28,"t":417,"y":5.9},{"s":28,"t":430,"y":5.95},{"s":28,"t":443,"y":5.93},{"s":28,"t":459,"y":5.96},{"s":28,"t":462,"y":5.93},{"s":28,"t":475,"y":5.97},{"s":28,"t":487,"y":5.95},{"s":28,"t":496.5,"y":5.97},{"s":28,"t":499,"y":5.6},{"s":28,"t":502,"y":5.76},{"s":28,"t":506,"y":5.86},{"s":28,"t":513,"y":5.92},{"s":28,"t":525,"y":5.95},{"s":28,"t":538,"y":5.97},{"s":28,"t":552,"y":5.94},{"s":28,"t":566,"y":5.97},{"s":28,"t":569,"y":5.76},{"s":28,"t":572,"y":5.86},{"s":28,"t":580,"y":5.93},{"s":28,"t":590,"y":5.96},{"s":28,"t":599,"y":5.96},{"s":28,"t":600,"y":5.84},
{"s":29,"t":10,"y":5.88},{"s":29,"t":11,"y":6.01},{"s":29,"t":18,"y":6.0},{"s":29,"t":26,"y":5.98},{"s":29,"t":33,"y":5.94},{"s":29,"t":40,"y":5.99},{"s":29,"t":48,"y":5.97},{"s":29,"t":55,"y":6.01},{"s":29,"t":59,"y":6.02},{"s":29,"t":61,"y":6.5},{"s":29,"t":63,"y":6.1},{"s":29,"t":70,"y":6.0},{"s":29,"t":78,"y":5.98},{"s":29,"t":88,"y":6.03},{"s":29,"t":98,"y":6.01},{"s":29,"t":110,"y":6.05},{"s":29,"t":122,"y":6.03},{"s":29,"t":135,"y":6.07},{"s":29,"t":148,"y":6.04},{"s":29,"t":160,"y":6.07},{"s":29,"t":172,"y":6.05},{"s":29,"t":185,"y":6.08},{"s":29,"t":197,"y":6.03},{"s":29,"t":205,"y":6.06},{"s":29,"t":215,"y":6.08},{"s":29,"t":228,"y":6.05},{"s":29,"t":240,"y":6.09},{"s":29,"t":253,"y":6.06},{"s":29,"t":265,"y":6.09},{"s":29,"t":278,"y":6.06},{"s":29,"t":290,"y":6.1},{"s":29,"t":303,"y":6.06},{"s":29,"t":315,"y":6.09},{"s":29,"t":328,"y":6.07},{"s":29,"t":340,"y":6.1},{"s":29,"t":353,"y":6.06},{"s":29,"t":365,"y":6.09},{"s":29,"t":378,"y":6.07},{"s":29,"t":390,"y":6.1},{"s":29,"t":403,"y":6.06},{"s":29,"t":417,"y":6.04},{"s":29,"t":430,"y":6.08},{"s":29,"t":443,"y":6.06},{"s":29,"t":459,"y":6.08},{"s":29,"t":462,"y":6.05},{"s":29,"t":475,"y":6.09},{"s":29,"t":487,"y":6.07},{"s":29,"t":496.5,"y":6.09},{"s":29,"t":499,"y":5.76},{"s":29,"t":502,"y":5.9},{"s":29,"t":506,"y":5.99},{"s":29,"t":513,"y":6.05},{"s":29,"t":525,"y":6.07},{"s":29,"t":538,"y":6.09},{"s":29,"t":552,"y":6.06},{"s":29,"t":566,"y":6.08},{"s":29,"t":569,"y":5.95},{"s":29,"t":572,"y":6.01},{"s":29,"t":580,"y":6.06},{"s":29,"t":590,"y":6.08},{"s":29,"t":599,"y":6.07},{"s":29,"t":600,"y":5.97},
{"s":30,"t":10,"y":6.04},{"s":30,"t":11,"y":6.16},{"s":30,"t":18,"y":6.15},{"s":30,"t":26,"y":6.13},{"s":30,"t":33,"y":6.09},{"s":30,"t":40,"y":6.14},{"s":30,"t":48,"y":6.12},{"s":30,"t":55,"y":6.16},{"s":30,"t":59,"y":6.17},{"s":30,"t":61,"y":6.7},{"s":30,"t":63,"y":6.25},{"s":30,"t":70,"y":6.15},{"s":30,"t":78,"y":6.13},{"s":30,"t":88,"y":6.17},{"s":30,"t":98,"y":6.16},{"s":30,"t":110,"y":6.19},{"s":30,"t":122,"y":6.17},{"s":30,"t":135,"y":6.21},{"s":30,"t":148,"y":6.18},{"s":30,"t":160,"y":6.21},{"s":30,"t":172,"y":6.18},{"s":30,"t":185,"y":6.22},{"s":30,"t":197,"y":6.16},{"s":30,"t":205,"y":6.2},{"s":30,"t":215,"y":6.22},{"s":30,"t":228,"y":6.19},{"s":30,"t":240,"y":6.22},{"s":30,"t":253,"y":6.19},{"s":30,"t":265,"y":6.23},{"s":30,"t":278,"y":6.2},{"s":30,"t":290,"y":6.23},{"s":30,"t":303,"y":6.19},{"s":30,"t":315,"y":6.22},{"s":30,"t":328,"y":6.2},{"s":30,"t":340,"y":6.23},{"s":30,"t":353,"y":6.19},{"s":30,"t":365,"y":6.22},{"s":30,"t":378,"y":6.2},{"s":30,"t":390,"y":6.23},{"s":30,"t":403,"y":6.19},{"s":30,"t":417,"y":6.18},{"s":30,"t":430,"y":6.21},{"s":30,"t":443,"y":6.19},{"s":30,"t":459,"y":6.21},{"s":30,"t":462,"y":6.18},{"s":30,"t":475,"y":6.22},{"s":30,"t":487,"y":6.2},{"s":30,"t":496.5,"y":6.22},{"s":30,"t":499,"y":5.93},{"s":30,"t":502,"y":6.04},{"s":30,"t":506,"y":6.12},{"s":30,"t":513,"y":6.17},{"s":30,"t":525,"y":6.19},{"s":30,"t":538,"y":6.22},{"s":30,"t":552,"y":6.19},{"s":30,"t":566,"y":6.21},{"s":30,"t":569,"y":6.11},{"s":30,"t":572,"y":6.15},{"s":30,"t":580,"y":6.19},{"s":30,"t":590,"y":6.21},{"s":30,"t":599,"y":6.2},{"s":30,"t":600,"y":6.1},
{"s":31,"t":10,"y":6.19},{"s":31,"t":11,"y":6.31},{"s":31,"t":18,"y":6.3},{"s":31,"t":26,"y":6.28},{"s":31,"t":33,"y":6.25},{"s":31,"t":40,"y":6.3},{"s":31,"t":48,"y":6.28},{"s":31,"t":55,"y":6.31},{"s":31,"t":59,"y":6.32},{"s":31,"t":61,"y":6.8},{"s":31,"t":63,"y":6.4},{"s":31,"t":70,"y":6.3},{"s":31,"t":78,"y":6.28},{"s":31,"t":88,"y":6.32},{"s":31,"t":98,"y":6.31},{"s":31,"t":110,"y":6.34},{"s":31,"t":122,"y":6.32},{"s":31,"t":135,"y":6.35},{"s":31,"t":148,"y":6.32},{"s":31,"t":160,"y":6.35},{"s":31,"t":172,"y":6.33},{"s":31,"t":185,"y":6.36},{"s":31,"t":197,"y":6.3},{"s":31,"t":203,"y":6.38},{"s":31,"t":205,"y":6.33},{"s":31,"t":215,"y":6.36},{"s":31,"t":228,"y":6.33},{"s":31,"t":240,"y":6.36},{"s":31,"t":253,"y":6.33},{"s":31,"t":265,"y":6.37},{"s":31,"t":278,"y":6.34},{"s":31,"t":290,"y":6.37},{"s":31,"t":303,"y":6.33},{"s":31,"t":315,"y":6.36},{"s":31,"t":328,"y":6.34},{"s":31,"t":340,"y":6.37},{"s":31,"t":353,"y":6.33},{"s":31,"t":365,"y":6.36},{"s":31,"t":378,"y":6.34},{"s":31,"t":390,"y":6.37},{"s":31,"t":403,"y":6.33},{"s":31,"t":417,"y":6.33},{"s":31,"t":430,"y":6.35},{"s":31,"t":443,"y":6.33},{"s":31,"t":459,"y":6.35},{"s":31,"t":462,"y":6.33},{"s":31,"t":475,"y":6.36},{"s":31,"t":487,"y":6.34},{"s":31,"t":496.5,"y":6.36},{"s":31,"t":499,"y":6.18},{"s":31,"t":502,"y":6.24},{"s":31,"t":506,"y":6.29},{"s":31,"t":513,"y":6.33},{"s":31,"t":525,"y":6.34},{"s":31,"t":538,"y":6.36},{"s":31,"t":552,"y":6.33},{"s":31,"t":566,"y":6.35},{"s":31,"t":569,"y":6.29},{"s":31,"t":572,"y":6.31},{"s":31,"t":580,"y":6.34},{"s":31,"t":590,"y":6.35},{"s":31,"t":599,"y":6.34},{"s":31,"t":600,"y":6.25},
{"s":32,"t":10,"y":6.36},{"s":32,"t":11,"y":6.47},{"s":32,"t":18,"y":6.46},{"s":32,"t":26,"y":6.45},{"s":32,"t":33,"y":6.43},{"s":32,"t":40,"y":6.46},{"s":32,"t":48,"y":6.45},{"s":32,"t":55,"y":6.47},{"s":32,"t":59,"y":6.48},{"s":32,"t":61,"y":6.85},{"s":32,"t":63,"y":6.55},{"s":32,"t":70,"y":6.46},{"s":32,"t":78,"y":6.45},{"s":32,"t":88,"y":6.48},{"s":32,"t":98,"y":6.47},{"s":32,"t":110,"y":6.49},{"s":32,"t":122,"y":6.47},{"s":32,"t":135,"y":6.5},{"s":32,"t":148,"y":6.48},{"s":32,"t":160,"y":6.5},{"s":32,"t":172,"y":6.48},{"s":32,"t":185,"y":6.51},{"s":32,"t":197,"y":6.46},{"s":32,"t":203,"y":6.58},{"s":32,"t":205,"y":6.48},{"s":32,"t":215,"y":6.5},{"s":32,"t":228,"y":6.48},{"s":32,"t":240,"y":6.52},{"s":32,"t":253,"y":6.55},{"s":32,"t":265,"y":6.51},{"s":32,"t":278,"y":6.49},{"s":32,"t":285,"y":6.56},{"s":32,"t":290,"y":6.5},{"s":32,"t":303,"y":6.48},{"s":32,"t":315,"y":6.51},{"s":32,"t":328,"y":6.49},{"s":32,"t":340,"y":6.52},{"s":32,"t":353,"y":6.48},{"s":32,"t":365,"y":6.51},{"s":32,"t":378,"y":6.49},{"s":32,"t":390,"y":6.52},{"s":32,"t":403,"y":6.48},{"s":32,"t":417,"y":6.49},{"s":32,"t":430,"y":6.51},{"s":32,"t":443,"y":6.49},{"s":32,"t":459,"y":6.5},{"s":32,"t":462,"y":6.48},{"s":32,"t":475,"y":6.51},{"s":32,"t":487,"y":6.49},{"s":32,"t":496.5,"y":6.5},{"s":32,"t":499,"y":6.4},{"s":32,"t":502,"y":6.41},{"s":32,"t":506,"y":6.44},{"s":32,"t":513,"y":6.47},{"s":32,"t":525,"y":6.49},{"s":32,"t":538,"y":6.5},{"s":32,"t":552,"y":6.48},{"s":32,"t":566,"y":6.49},{"s":32,"t":569,"y":6.52},{"s":32,"t":572,"y":6.49},{"s":32,"t":580,"y":6.5},{"s":32,"t":590,"y":6.49},{"s":32,"t":599,"y":6.49},{"s":32,"t":600,"y":6.4},
{"s":33,"t":10,"y":6.62},{"s":33,"t":40,"y":6.62},{"s":33,"t":59,"y":6.62},{"s":33,"t":61,"y":6.9},{"s":33,"t":63,"y":6.66},{"s":33,"t":70,"y":6.62},{"s":33,"t":100,"y":6.62},{"s":33,"t":160,"y":6.62},{"s":33,"t":220,"y":6.63},{"s":33,"t":257,"y":6.66},{"s":33,"t":260,"y":6.63},{"s":33,"t":285,"y":6.65},{"s":33,"t":290,"y":6.63},{"s":33,"t":340,"y":6.62},{"s":33,"t":400,"y":6.63},{"s":33,"t":460,"y":6.62},{"s":33,"t":496,"y":6.63},{"s":33,"t":500,"y":6.59},{"s":33,"t":510,"y":6.61},{"s":33,"t":530,"y":6.63},{"s":33,"t":566,"y":6.63},{"s":33,"t":569,"y":6.7},{"s":33,"t":575,"y":6.64},{"s":33,"t":590,"y":6.63},{"s":33,"t":599,"y":6.63},{"s":33,"t":600,"y":6.45},
{"s":34,"t":10,"y":6.8},{"s":34,"t":25,"y":6.8},{"s":34,"t":59,"y":6.8},{"s":34,"t":61,"y":6.9},{"s":34,"t":63,"y":6.81},{"s":34,"t":75,"y":6.8},{"s":34,"t":160,"y":6.8},{"s":34,"t":220,"y":6.81},{"s":34,"t":280,"y":6.8},{"s":34,"t":400,"y":6.8},{"s":34,"t":496,"y":6.8},{"s":34,"t":499,"y":6.78},{"s":34,"t":510,"y":6.8},{"s":34,"t":566,"y":6.8},{"s":34,"t":569,"y":6.87},{"s":34,"t":575,"y":6.82},{"s":34,"t":590,"y":6.8},{"s":34,"t":600,"y":6.8},
{"s":35,"t":10,"y":7.0},{"s":35,"t":59,"y":7.0},{"s":35,"t":61,"y":7.07},{"s":35,"t":63,"y":7.01},{"s":35,"t":100,"y":7.0},{"s":35,"t":220,"y":7.0},{"s":35,"t":340,"y":7.0},{"s":35,"t":460,"y":7.0},{"s":35,"t":566,"y":7.0},{"s":35,"t":569,"y":7.08},{"s":35,"t":575,"y":7.02},{"s":35,"t":590,"y":7.0},{"s":35,"t":600,"y":7.0},
{"s":36,"t":10,"y":7.21},{"s":36,"t":59,"y":7.21},{"s":36,"t":61,"y":7.24},{"s":36,"t":63,"y":7.21},{"s":36,"t":160,"y":7.21},{"s":36,"t":280,"y":7.21},{"s":36,"t":400,"y":7.21},{"s":36,"t":520,"y":7.21},{"s":36,"t":566,"y":7.21},{"s":36,"t":569,"y":7.29},{"s":36,"t":575,"y":7.23},{"s":36,"t":590,"y":7.21},{"s":36,"t":599,"y":7.21},{"s":36,"t":600,"y":7.28},
{"s":37,"t":10,"y":7.39},{"s":37,"t":40,"y":7.4},{"s":37,"t":70,"y":7.39},{"s":37,"t":100,"y":7.4},{"s":37,"t":130,"y":7.39},{"s":37,"t":160,"y":7.4},{"s":37,"t":190,"y":7.39},{"s":37,"t":220,"y":7.4},{"s":37,"t":250,"y":7.39},{"s":37,"t":280,"y":7.4},{"s":37,"t":310,"y":7.39},{"s":37,"t":340,"y":7.4},{"s":37,"t":370,"y":7.39},{"s":37,"t":400,"y":7.4},{"s":37,"t":430,"y":7.39},{"s":37,"t":460,"y":7.4},{"s":37,"t":490,"y":7.39},{"s":37,"t":520,"y":7.4},{"s":37,"t":566,"y":7.4},{"s":37,"t":569,"y":7.47},{"s":37,"t":575,"y":7.42},{"s":37,"t":590,"y":7.4},{"s":37,"t":600,"y":7.4},
{"s":38,"t":10,"y":7.6},{"s":38,"t":40,"y":7.61},{"s":38,"t":70,"y":7.6},{"s":38,"t":100,"y":7.62},{"s":38,"t":130,"y":7.6},{"s":38,"t":160,"y":7.61},{"s":38,"t":190,"y":7.6},{"s":38,"t":220,"y":7.62},{"s":38,"t":250,"y":7.6},{"s":38,"t":280,"y":7.61},{"s":38,"t":310,"y":7.6},{"s":38,"t":340,"y":7.62},{"s":38,"t":370,"y":7.6},{"s":38,"t":400,"y":7.61},{"s":38,"t":430,"y":7.6},{"s":38,"t":460,"y":7.61},{"s":38,"t":490,"y":7.6},{"s":38,"t":520,"y":7.61},{"s":38,"t":550,"y":7.6},{"s":38,"t":566,"y":7.6},{"s":38,"t":569,"y":7.68},{"s":38,"t":575,"y":7.63},{"s":38,"t":590,"y":7.61},{"s":38,"t":600,"y":7.6},
{"s":39,"t":10,"y":7.79},{"s":39,"t":25,"y":7.8},{"s":39,"t":40,"y":7.81},{"s":39,"t":55,"y":7.79},{"s":39,"t":70,"y":7.81},{"s":39,"t":85,"y":7.8},{"s":39,"t":100,"y":7.82},{"s":39,"t":115,"y":7.79},{"s":39,"t":130,"y":7.81},{"s":39,"t":145,"y":7.8},{"s":39,"t":160,"y":7.79},{"s":39,"t":175,"y":7.81},{"s":39,"t":190,"y":7.8},{"s":39,"t":205,"y":7.82},{"s":39,"t":220,"y":7.79},{"s":39,"t":235,"y":7.81},{"s":39,"t":250,"y":7.8},{"s":39,"t":265,"y":7.82},{"s":39,"t":280,"y":7.79},{"s":39,"t":295,"y":7.81},{"s":39,"t":310,"y":7.8},{"s":39,"t":325,"y":7.82},{"s":39,"t":340,"y":7.79},{"s":39,"t":355,"y":7.81},{"s":39,"t":370,"y":7.8},{"s":39,"t":385,"y":7.82},{"s":39,"t":400,"y":7.8},{"s":39,"t":415,"y":7.81},{"s":39,"t":430,"y":7.79},{"s":39,"t":445,"y":7.81},{"s":39,"t":460,"y":7.8},{"s":39,"t":475,"y":7.81},{"s":39,"t":490,"y":7.79},{"s":39,"t":505,"y":7.81},{"s":39,"t":520,"y":7.8},{"s":39,"t":535,"y":7.81},{"s":39,"t":550,"y":7.8},{"s":39,"t":566,"y":7.8},{"s":39,"t":569,"y":7.88},{"s":39,"t":575,"y":7.82},{"s":39,"t":590,"y":7.8},{"s":39,"t":600,"y":7.8},
{"s":40,"t":10,"y":8.0},{"s":40,"t":18,"y":8.04},{"s":40,"t":26,"y":8.02},{"s":40,"t":34,"y":8.06},{"s":40,"t":42,"y":8.03},{"s":40,"t":50,"y":8.05},{"s":40,"t":58,"y":8.02},{"s":40,"t":66,"y":8.06},{"s":40,"t":74,"y":8.03},{"s":40,"t":82,"y":8.05},{"s":40,"t":90,"y":8.01},{"s":40,"t":98,"y":8.05},{"s":40,"t":106,"y":8.03},{"s":40,"t":114,"y":8.06},{"s":40,"t":122,"y":8.02},{"s":40,"t":130,"y":8.05},{"s":40,"t":138,"y":8.03},{"s":40,"t":146,"y":8.07},{"s":40,"t":154,"y":8.02},{"s":40,"t":162,"y":8.05},{"s":40,"t":170,"y":8.03},{"s":40,"t":178,"y":8.06},{"s":40,"t":186,"y":8.02},{"s":40,"t":194,"y":8.05},{"s":40,"t":202,"y":8.03},{"s":40,"t":210,"y":8.06},{"s":40,"t":218,"y":8.01},{"s":40,"t":226,"y":8.05},{"s":40,"t":234,"y":8.03},{"s":40,"t":242,"y":8.06},{"s":40,"t":250,"y":8.02},{"s":40,"t":258,"y":8.05},{"s":40,"t":266,"y":8.03},{"s":40,"t":274,"y":8.07},{"s":40,"t":282,"y":8.02},{"s":40,"t":290,"y":8.05},{"s":40,"t":298,"y":8.03},{"s":40,"t":306,"y":8.06},{"s":40,"t":314,"y":8.01},{"s":40,"t":322,"y":8.05},{"s":40,"t":330,"y":8.03},{"s":40,"t":338,"y":8.07},{"s":40,"t":346,"y":8.02},{"s":40,"t":354,"y":8.06},{"s":40,"t":362,"y":8.03},{"s":40,"t":370,"y":8.07},{"s":40,"t":378,"y":8.02},{"s":40,"t":386,"y":8.05},{"s":40,"t":394,"y":8.03},{"s":40,"t":402,"y":8.06},{"s":40,"t":410,"y":8.02},{"s":40,"t":418,"y":8.05},{"s":40,"t":426,"y":8.03},{"s":40,"t":434,"y":8.06},{"s":40,"t":442,"y":8.02},{"s":40,"t":450,"y":8.05},{"s":40,"t":458,"y":8.03},{"s":40,"t":466,"y":8.06},{"s":40,"t":474,"y":8.02},{"s":40,"t":482,"y":8.05},{"s":40,"t":490,"y":8.03},{"s":40,"t":498,"y":8.06},{"s":40,"t":506,"y":8.02},{"s":40,"t":514,"y":8.05},{"s":40,"t":522,"y":8.03},{"s":40,"t":530,"y":8.06},{"s":40,"t":538,"y":8.02},{"s":40,"t":546,"y":8.05},{"s":40,"t":554,"y":8.03},{"s":40,"t":562,"y":8.04},{"s":40,"t":566,"y":8.03},{"s":40,"t":569,"y":8.08},{"s":40,"t":575,"y":8.04},{"s":40,"t":582,"y":8.02},{"s":40,"t":590,"y":8.05},{"s":40,"t":600,"y":8.04},
{"s":41,"t":10,"y":8.2},{"s":41,"t":18,"y":8.18},{"s":41,"t":26,"y":8.21},{"s":41,"t":34,"y":8.19},{"s":41,"t":42,"y":8.21},{"s":41,"t":50,"y":8.18},{"s":41,"t":58,"y":8.2},{"s":41,"t":66,"y":8.22},{"s":41,"t":74,"y":8.19},{"s":41,"t":82,"y":8.21},{"s":41,"t":90,"y":8.18},{"s":41,"t":98,"y":8.2},{"s":41,"t":106,"y":8.22},{"s":41,"t":114,"y":8.18},{"s":41,"t":122,"y":8.21},{"s":41,"t":130,"y":8.19},{"s":41,"t":138,"y":8.22},{"s":41,"t":146,"y":8.18},{"s":41,"t":154,"y":8.2},{"s":41,"t":162,"y":8.22},{"s":41,"t":170,"y":8.19},{"s":41,"t":178,"y":8.21},{"s":41,"t":186,"y":8.18},{"s":41,"t":194,"y":8.2},{"s":41,"t":202,"y":8.22},{"s":41,"t":210,"y":8.18},{"s":41,"t":218,"y":8.21},{"s":41,"t":226,"y":8.19},{"s":41,"t":234,"y":8.22},{"s":41,"t":242,"y":8.18},{"s":41,"t":250,"y":8.2},{"s":41,"t":258,"y":8.22},{"s":41,"t":266,"y":8.18},{"s":41,"t":274,"y":8.21},{"s":41,"t":282,"y":8.19},{"s":41,"t":290,"y":8.22},{"s":41,"t":298,"y":8.17},{"s":41,"t":306,"y":8.21},{"s":41,"t":314,"y":8.19},{"s":41,"t":322,"y":8.22},{"s":41,"t":330,"y":8.18},{"s":41,"t":338,"y":8.21},{"s":41,"t":346,"y":8.19},{"s":41,"t":354,"y":8.23},{"s":41,"t":362,"y":8.18},{"s":41,"t":370,"y":8.21},{"s":41,"t":378,"y":8.19},{"s":41,"t":386,"y":8.22},{"s":41,"t":394,"y":8.18},{"s":41,"t":402,"y":8.21},{"s":41,"t":410,"y":8.19},{"s":41,"t":418,"y":8.22},{"s":41,"t":426,"y":8.18},{"s":41,"t":434,"y":8.2},{"s":41,"t":442,"y":8.22},{"s":41,"t":450,"y":8.19},{"s":41,"t":458,"y":8.21},{"s":41,"t":466,"y":8.18},{"s":41,"t":474,"y":8.2},{"s":41,"t":482,"y":8.22},{"s":41,"t":490,"y":8.19},{"s":41,"t":498,"y":8.21},{"s":41,"t":506,"y":8.18},{"s":41,"t":514,"y":8.2},{"s":41,"t":522,"y":8.22},{"s":41,"t":530,"y":8.19},{"s":41,"t":538,"y":8.21},{"s":41,"t":546,"y":8.18},{"s":41,"t":554,"y":8.2},{"s":41,"t":562,"y":8.21},{"s":41,"t":566,"y":8.2},{"s":41,"t":569,"y":8.26},{"s":41,"t":575,"y":8.21},{"s":41,"t":582,"y":8.19},{"s":41,"t":590,"y":8.21},{"s":41,"t":600,"y":8.2},
{"s":42,"t":10,"y":8.4},{"s":42,"t":18,"y":8.38},{"s":42,"t":26,"y":8.41},{"s":42,"t":34,"y":8.39},{"s":42,"t":42,"y":8.41},{"s":42,"t":50,"y":8.38},{"s":42,"t":58,"y":8.4},{"s":42,"t":66,"y":8.42},{"s":42,"t":74,"y":8.39},{"s":42,"t":82,"y":8.41},{"s":42,"t":90,"y":8.38},{"s":42,"t":98,"y":8.4},{"s":42,"t":106,"y":8.42},{"s":42,"t":114,"y":8.39},{"s":42,"t":122,"y":8.41},{"s":42,"t":130,"y":8.38},{"s":42,"t":138,"y":8.4},{"s":42,"t":146,"y":8.42},{"s":42,"t":154,"y":8.39},{"s":42,"t":162,"y":8.41},{"s":42,"t":170,"y":8.38},{"s":42,"t":178,"y":8.4},{"s":42,"t":186,"y":8.42},{"s":42,"t":194,"y":8.39},{"s":42,"t":202,"y":8.41},{"s":42,"t":210,"y":8.38},{"s":42,"t":218,"y":8.4},{"s":42,"t":226,"y":8.42},{"s":42,"t":234,"y":8.38},{"s":42,"t":242,"y":8.41},{"s":42,"t":250,"y":8.39},{"s":42,"t":258,"y":8.42},{"s":42,"t":266,"y":8.38},{"s":42,"t":274,"y":8.4},{"s":42,"t":282,"y":8.42},{"s":42,"t":290,"y":8.39},{"s":42,"t":298,"y":8.41},{"s":42,"t":306,"y":8.38},{"s":42,"t":314,"y":8.4},{"s":42,"t":322,"y":8.43},{"s":42,"t":330,"y":8.39},{"s":42,"t":338,"y":8.41},{"s":42,"t":346,"y":8.37},{"s":42,"t":354,"y":8.42},{"s":42,"t":362,"y":8.4},{"s":42,"t":370,"y":8.38},{"s":42,"t":378,"y":8.41},{"s":42,"t":386,"y":8.43},{"s":42,"t":394,"y":8.39},{"s":42,"t":402,"y":8.41},{"s":42,"t":410,"y":8.38},{"s":42,"t":418,"y":8.4},{"s":42,"t":426,"y":8.42},{"s":42,"t":434,"y":8.39},{"s":42,"t":442,"y":8.41},{"s":42,"t":450,"y":8.38},{"s":42,"t":458,"y":8.4},{"s":42,"t":466,"y":8.42},{"s":42,"t":474,"y":8.39},{"s":42,"t":482,"y":8.41},{"s":42,"t":490,"y":8.38},{"s":42,"t":498,"y":8.4},{"s":42,"t":506,"y":8.42},{"s":42,"t":514,"y":8.39},{"s":42,"t":522,"y":8.41},{"s":42,"t":530,"y":8.38},{"s":42,"t":538,"y":8.4},{"s":42,"t":546,"y":8.42},{"s":42,"t":554,"y":8.39},{"s":42,"t":562,"y":8.4},{"s":42,"t":566,"y":8.4},{"s":42,"t":569,"y":8.45},{"s":42,"t":575,"y":8.41},{"s":42,"t":582,"y":8.39},{"s":42,"t":590,"y":8.41},{"s":42,"t":600,"y":8.4},
{"s":43,"t":10,"y":8.62},{"s":43,"t":18,"y":8.6},{"s":43,"t":26,"y":8.63},{"s":43,"t":34,"y":8.61},{"s":43,"t":42,"y":8.63},{"s":43,"t":50,"y":8.6},{"s":43,"t":58,"y":8.62},{"s":43,"t":66,"y":8.64},{"s":43,"t":74,"y":8.61},{"s":43,"t":82,"y":8.62},{"s":43,"t":90,"y":8.6},{"s":43,"t":98,"y":8.63},{"s":43,"t":106,"y":8.61},{"s":43,"t":114,"y":8.64},{"s":43,"t":122,"y":8.6},{"s":43,"t":130,"y":8.62},{"s":43,"t":138,"y":8.63},{"s":43,"t":146,"y":8.6},{"s":43,"t":154,"y":8.62},{"s":43,"t":162,"y":8.64},{"s":43,"t":170,"y":8.61},{"s":43,"t":178,"y":8.62},{"s":43,"t":186,"y":8.59},{"s":43,"t":194,"y":8.63},{"s":43,"t":202,"y":8.61},{"s":43,"t":210,"y":8.64},{"s":43,"t":218,"y":8.6},{"s":43,"t":226,"y":8.62},{"s":43,"t":234,"y":8.63},{"s":43,"t":242,"y":8.6},{"s":43,"t":250,"y":8.63},{"s":43,"t":258,"y":8.61},{"s":43,"t":266,"y":8.64},{"s":43,"t":274,"y":8.6},{"s":43,"t":282,"y":8.62},{"s":43,"t":290,"y":8.64},{"s":43,"t":298,"y":8.59},{"s":43,"t":306,"y":8.63},{"s":43,"t":314,"y":8.61},{"s":43,"t":322,"y":8.64},{"s":43,"t":330,"y":8.6},{"s":43,"t":338,"y":8.62},{"s":43,"t":346,"y":8.65},{"s":43,"t":354,"y":8.6},{"s":43,"t":362,"y":8.63},{"s":43,"t":370,"y":8.61},{"s":43,"t":378,"y":8.64},{"s":43,"t":386,"y":8.6},{"s":43,"t":394,"y":8.62},{"s":43,"t":402,"y":8.63},{"s":43,"t":410,"y":8.6},{"s":43,"t":418,"y":8.63},{"s":43,"t":426,"y":8.61},{"s":43,"t":434,"y":8.65},{"s":43,"t":442,"y":8.6},{"s":43,"t":450,"y":8.62},{"s":43,"t":458,"y":8.63},{"s":43,"t":466,"y":8.6},{"s":43,"t":474,"y":8.62},{"s":43,"t":482,"y":8.64},{"s":43,"t":490,"y":8.61},{"s":43,"t":498,"y":8.63},{"s":43,"t":506,"y":8.6},{"s":43,"t":514,"y":8.62},{"s":43,"t":522,"y":8.64},{"s":43,"t":530,"y":8.61},{"s":43,"t":538,"y":8.63},{"s":43,"t":546,"y":8.6},{"s":43,"t":554,"y":8.62},{"s":43,"t":562,"y":8.61},{"s":43,"t":566,"y":8.62},{"s":43,"t":569,"y":8.66},{"s":43,"t":575,"y":8.63},{"s":43,"t":582,"y":8.61},{"s":43,"t":590,"y":8.63},{"s":43,"t":600,"y":8.62},
{"s":44,"t":10,"y":8.79},{"s":44,"t":18,"y":8.81},{"s":44,"t":26,"y":8.78},{"s":44,"t":34,"y":8.81},{"s":44,"t":42,"y":8.8},{"s":44,"t":50,"y":8.82},{"s":44,"t":58,"y":8.79},{"s":44,"t":66,"y":8.83},{"s":44,"t":74,"y":8.78},{"s":44,"t":82,"y":8.8},{"s":44,"t":90,"y":8.82},{"s":44,"t":98,"y":8.79},{"s":44,"t":106,"y":8.81},{"s":44,"t":114,"y":8.77},{"s":44,"t":122,"y":8.82},{"s":44,"t":130,"y":8.8},{"s":44,"t":138,"y":8.83},{"s":44,"t":146,"y":8.78},{"s":44,"t":154,"y":8.81},{"s":44,"t":162,"y":8.79},{"s":44,"t":170,"y":8.82},{"s":44,"t":178,"y":8.77},{"s":44,"t":186,"y":8.81},{"s":44,"t":194,"y":8.82},{"s":44,"t":202,"y":8.78},{"s":44,"t":210,"y":8.8},{"s":44,"t":218,"y":8.83},{"s":44,"t":226,"y":8.79},{"s":44,"t":234,"y":8.77},{"s":44,"t":242,"y":8.82},{"s":44,"t":250,"y":8.8},{"s":44,"t":258,"y":8.78},{"s":44,"t":266,"y":8.82},{"s":44,"t":274,"y":8.79},{"s":44,"t":282,"y":8.83},{"s":44,"t":290,"y":8.77},{"s":44,"t":298,"y":8.81},{"s":44,"t":306,"y":8.82},{"s":44,"t":314,"y":8.76},{"s":44,"t":322,"y":8.81},{"s":44,"t":330,"y":8.78},{"s":44,"t":338,"y":8.83},{"s":44,"t":346,"y":8.75},{"s":44,"t":354,"y":8.82},{"s":44,"t":362,"y":8.83},{"s":44,"t":370,"y":8.76},{"s":44,"t":378,"y":8.81},{"s":44,"t":386,"y":8.78},{"s":44,"t":394,"y":8.84},{"s":44,"t":402,"y":8.77},{"s":44,"t":410,"y":8.8},{"s":44,"t":418,"y":8.82},{"s":44,"t":426,"y":8.77},{"s":44,"t":434,"y":8.81},{"s":44,"t":442,"y":8.83},{"s":44,"t":450,"y":8.78},{"s":44,"t":458,"y":8.8},{"s":44,"t":466,"y":8.77},{"s":44,"t":474,"y":8.82},{"s":44,"t":482,"y":8.81},{"s":44,"t":490,"y":8.78},{"s":44,"t":498,"y":8.83},{"s":44,"t":506,"y":8.79},{"s":44,"t":514,"y":8.84},{"s":44,"t":522,"y":8.76},{"s":44,"t":530,"y":8.81},{"s":44,"t":538,"y":8.79},{"s":44,"t":546,"y":8.82},{"s":44,"t":554,"y":8.78},{"s":44,"t":562,"y":8.81},{"s":44,"t":566,"y":8.8},{"s":44,"t":569,"y":8.82},{"s":44,"t":575,"y":8.79},{"s":44,"t":582,"y":8.81},{"s":44,"t":590,"y":8.79},{"s":44,"t":600,"y":8.8}
]
},
"hconcat":[
{"width":1834,"height":1393,
"encoding":{"x":{"field":"t","type":"quantitative","title":null,"scale":{"domain":[0,600],"nice":false,"zero":false},
"axis":{"tickCount":300,"labelOverlap":false,"labelFlush":false,"labelBound":false,"domain":false,"labelPadding":4,
"labelExpr":"datum.value % 20 == 0 ? (floor(datum.value/60) < 10 ? '0' : '') + floor(datum.value/60) + ':' + (datum.value % 60 < 10 ? '0' : '') + (datum.value % 60) : ''",
"tickSize":{"condition":{"test":"datum.value % 20 == 0","value":5},"value":2.5}}}},
"layer":[
{"data":{"name":"bl"},"mark":{"type":"rule","strokeWidth":1.4,"opacity":0.6},
"encoding":{"x2":{"field":"e"},
"y":{"field":"y","type":"quantitative","title":null,"scale":{"domain":[-0.2,10],"nice":false,"zero":false},"axis":{"orient":"right","values":[0,2,4,6,8,10],"labels":false,"tickSize":5,"domain":false}},
"color":{"field":"g","type":"nominal","scale":{"domain":["r","g","b"],"range":["#ff0000","#008000","#0000ff"]},"legend":null}}},
{"data":{"name":"tr"},"mark":{"type":"line","strokeWidth":2,"strokeJoin":"round"},
"encoding":{
"y":{"field":"y","type":"quantitative","title":null,"scale":{"domain":[-0.2,10],"nice":false,"zero":false},"axis":{"orient":"left","values":[0,2,4,6,8,10],"tickSize":5,"domain":false,"labelPadding":4}},
"detail":{"field":"s"},
"color":{"field":"s","type":"quantitative","scale":{"type":"linear","interpolate":"rgb","domain":[0,5,10,15,20,25,30,32,34,36,38,40,42,44],"range":["#ff0000","#e80800","#d01000","#b82000","#8a3a00","#5a5400","#2a7000","#0e7a16","#06604e","#055070","#08408c","#0a30b0","#0520d8","#0000ff"]},"legend":null}}}
],
"resolve":{"scale":{"color":"independent"},"axis":{"y":"independent"}}
},
{"width":52,"height":1393,"data":{"name":"dots"},
"encoding":{"x":{"field":"x","type":"quantitative","title":null,"scale":{"domain":[-1.625,1.625],"nice":false,"zero":false},"axis":{"values":[-1,0,1],"labels":false,"tickSize":5,"domain":false}},
"y":{"field":"y","type":"quantitative","title":null,"scale":{"domain":[-0.2,10],"nice":false,"zero":false},"axis":{"values":[0,2,4,6,8,10],"labels":false,"tickSize":5,"domain":false}}},
"layer":[
{"mark":{"type":"point","filled":true,"size":165,"opacity":1},
"encoding":{"color":{"field":"s","type":"quantitative","scale":{"type":"linear","interpolate":"rgb","domain":[0,5,10,15,20,25,30,32,34,36,38,40,42,44],"range":["#ff0000","#e80800","#d01000","#b82000","#8a3a00","#5a5400","#2a7000","#0e7a16","#06604e","#055070","#08408c","#0a30b0","#0520d8","#0000ff"]},"legend":null}}},
{"mark":{"type":"line","color":"#222","strokeWidth":1},"encoding":{"order":{"field":"y"}}}
]}
],
"config":{"view":{"stroke":"#000","strokeWidth":1.2},"axis":{"labelFont":"DejaVu Sans","labelFontSize":17,"labelColor":"#000","tickColor":"#000","tickWidth":1,"grid":false}}
}
